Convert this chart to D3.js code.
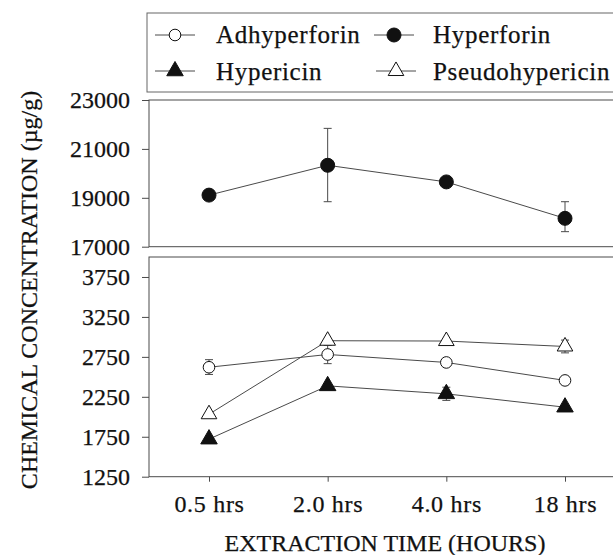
<!DOCTYPE html>
<html>
<head>
<meta charset="utf-8">
<script src="https://cdn.jsdelivr.net/npm/d3@7"></script>
<style>
  body { margin: 0; background: #fff; }
  svg text { font-family: "Liberation Serif", "Times New Roman", serif; fill: #111; stroke: #111; stroke-width: 0.25px; }
</style>
</head>
<body>
<div id="chart"></div>
<script>
const times = ["0.5 hrs", "2.0 hrs", "4.0 hrs", "18 hrs"];

// upper panel
const hyperforin = [19110, 20330, 19650, 18160];
const hyperforinErr = [null, [18840, 21840], null, [17615, 18840]];

// lower panel
const adhyperforin = [2620, 2780, 2680, 2455];
const adhyperforinErr = [[2530, 2715], [2665, 2895], null, null];
const hypericin = [1720, 2387, 2287, 2120];
const hypericinErr = [null, null, [2205, 2370], null];
const pseudohypericin = [2032, 2952, 2948, 2880];
const pseudohypericinErr = [null, null, null, [2800, 2960]];

const topTicks = [17000, 19000, 21000, 23000];
const bottomTicks = [1250, 1750, 2250, 2750, 3250, 3750];

const width = 613, height = 555;
const left = 149, right = 640;
const lineColor = "#4a4a4a";

const svg = d3.select("#chart").append("svg")
    .attr("width", width).attr("height", height);

const x = d3.scalePoint().domain(times).range([209, 565]);
const yTop = d3.scaleLinear().domain([17000, 23000]).range([246.7, 100]);
const yBot = d3.scaleLinear().domain([1250, 4000]).range([476.7, 257]);

const symbols = {
    openCircle: {type: d3.symbolCircle, size: Math.PI * 5.8 * 5.8, fill: "#fff"},
    filledCircle: {type: d3.symbolCircle, size: Math.PI * 7 * 7, fill: "#111"},
    filledTriangle: {type: d3.symbolTriangle, size: 118, fill: "#111"},
    openTriangle: {type: d3.symbolTriangle, size: 106, fill: "#fff"}
};

function frame(y) {
    const [y0, y1] = y.range();
    svg.append("rect")
        .attr("x", left).attr("y", y1)
        .attr("width", right - left).attr("height", y0 - y1)
        .attr("fill", "none").attr("stroke", lineColor).attr("stroke-width", 1);
}

function drawSeries(y, values, errs, sym) {
    const g = svg.append("g");
    g.append("path")
        .datum(values)
        .attr("fill", "none")
        .attr("stroke", lineColor)
        .attr("stroke-width", 1)
        .attr("d", d3.line().x((d, i) => x(times[i])).y(d => y(d)));

    errs.forEach((e, i) => {
        if (!e) return;
        const cx = x(times[i]);
        g.append("line").attr("x1", cx).attr("x2", cx)
            .attr("y1", y(e[0])).attr("y2", y(e[1]))
            .attr("stroke", lineColor);
        e.forEach(v => g.append("line")
            .attr("x1", cx - 4).attr("x2", cx + 4)
            .attr("y1", y(v)).attr("y2", y(v))
            .attr("stroke", lineColor));
    });

    g.selectAll("path.mark")
        .data(values)
        .join("path")
        .attr("class", "mark")
        .attr("transform", (d, i) => `translate(${x(times[i])},${y(d)})`)
        .attr("d", d3.symbol().type(sym.type).size(sym.size))
        .attr("fill", sym.fill)
        .attr("stroke", "#111")
        .attr("stroke-width", 1);
}

frame(yTop);
frame(yBot);

// y axes
function yAxis(y, ticks) {
    const g = svg.append("g")
        .attr("transform", `translate(${left},0)`)
        .call(d3.axisLeft(y).tickValues(ticks).tickSize(7).tickPadding(12).tickFormat(d3.format("d")));
    g.select(".domain").remove();
    g.selectAll("line").attr("stroke", lineColor);
    g.selectAll("text").attr("font-size", 24);
}
yAxis(yTop, topTicks);
yAxis(yBot, bottomTicks);

// x axis
const xg = svg.append("g")
    .attr("transform", `translate(0,${yBot.range()[0]})`)
    .call(d3.axisBottom(x).tickSize(5));
xg.select(".domain").remove();
xg.selectAll("line").attr("stroke", lineColor);
xg.selectAll("text")
    .attr("dy", null).attr("y", 35)
    .attr("font-size", 24).attr("letter-spacing", 0.7);

drawSeries(yTop, hyperforin, hyperforinErr, symbols.filledCircle);
drawSeries(yBot, adhyperforin, adhyperforinErr, symbols.openCircle);
drawSeries(yBot, hypericin, hypericinErr, symbols.filledTriangle);
drawSeries(yBot, pseudohypericin, pseudohypericinErr, symbols.openTriangle);

// axis titles
svg.append("text")
    .attr("x", 385).attr("y", 551)
    .attr("text-anchor", "middle")
    .attr("font-size", 24)
    .text("EXTRACTION TIME (HOURS)");

svg.append("text")
    .attr("transform", "translate(37,290) rotate(-90)")
    .attr("text-anchor", "middle")
    .attr("font-size", 24)
    .text("CHEMICAL CONCENTRATION (\u00b5g/g)");

// legend
const legendItems = [
    {name: "Adhyperforin", sym: symbols.openCircle, lx: 175, ly: 35, tx: 216, ty: 43},
    {name: "Hyperforin", sym: symbols.filledCircle, lx: 394, ly: 35, tx: 433, ty: 43},
    {name: "Hypericin", sym: symbols.filledTriangle, lx: 175, ly: 71, tx: 216, ty: 80},
    {name: "Pseudohypericin", sym: symbols.openTriangle, lx: 396, ly: 71, tx: 433, ty: 80}
];

svg.append("rect")
    .attr("x", 147).attr("y", 13)
    .attr("width", 500).attr("height", 79)
    .attr("fill", "none").attr("stroke", "#666").attr("stroke-width", 1);

const legend = svg.append("g");
legendItems.forEach(d => {
    legend.append("line")
        .attr("x1", d.lx - 20).attr("x2", d.lx + 20)
        .attr("y1", d.ly).attr("y2", d.ly)
        .attr("stroke", lineColor);
    legend.append("path")
        .attr("transform", `translate(${d.lx},${d.ly})`)
        .attr("d", d3.symbol().type(d.sym.type).size(d.sym.size))
        .attr("fill", d.sym.fill)
        .attr("stroke", "#111");
    legend.append("text")
        .attr("x", d.tx).attr("y", d.ty)
        .attr("font-size", 25)
        .attr("letter-spacing", 0.7)
        .text(d.name);
});
</script>
</body>
</html>
